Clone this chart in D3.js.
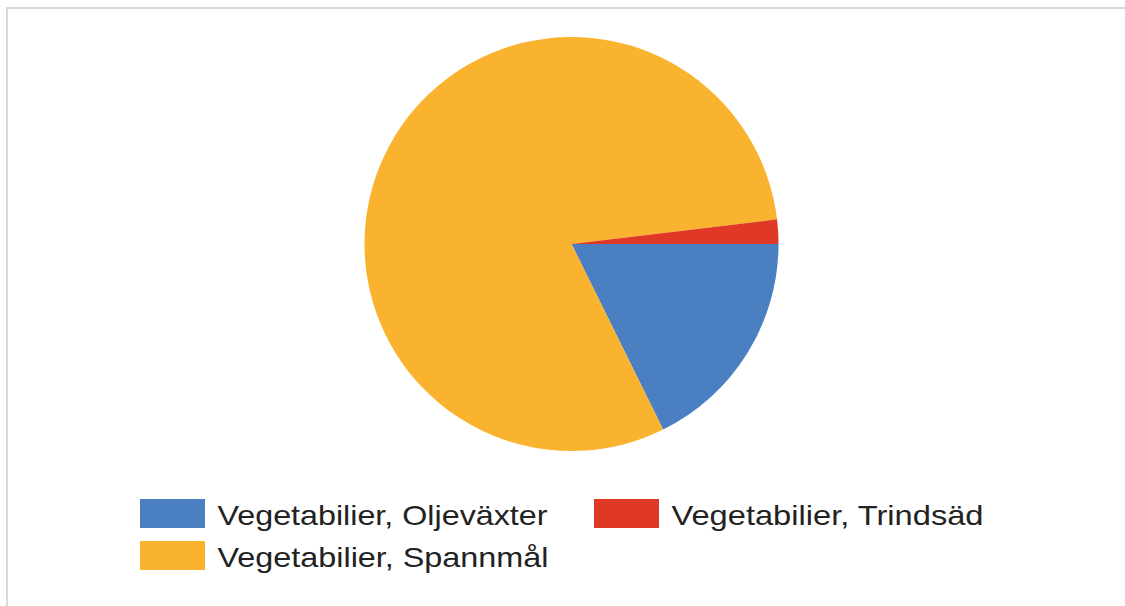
<!DOCTYPE html>
<html>
<head>
<meta charset="utf-8">
<style>
  body { margin: 0; background: #fff; }
  svg { display: block; }
</style>
</head>
<body>
<div id="container"></div>
<script src="https://cdn.jsdelivr.net/npm/d3@7"></script>
<script>

// slice data, in drawing order (clockwise from 3 o'clock)
const categories = ["Vegetabilier, Oljeväxter", "Vegetabilier, Spannmål", "Vegetabilier, Trindsäd"];
const values = [17.7, 80.4, 1.9];
const colors = ["#4a80c2", "#fab32f", "#e03826"];

// legend order as laid out in the picture (row by row)
const legendOrder = [0, 2, 1];

const width = 1125, height = 606;

const svg = d3.select("#container")
  .append("svg")
  .attr("width", width)
  .attr("height", height);

// chart frame
svg.append("rect")
  .attr("x", 7)
  .attr("y", 8)
  .attr("width", 1125)
  .attr("height", 640)
  .attr("fill", "none")
  .attr("stroke", "#d9d9d9")
  .attr("stroke-width", 2);

const cx = 571.5, cy = 244, r = 207;

const pie = d3.pie()
  .sort(null)
  .startAngle(Math.PI / 2)
  .endAngle(Math.PI / 2 + 2 * Math.PI)
  .value(d => d);

const arc = d3.arc().innerRadius(0).outerRadius(r);

const g = svg.append("g").attr("transform", `translate(${cx},${cy})`);

g.selectAll("path")
  .data(pie(values))
  .join("path")
  .attr("d", arc)
  .attr("fill", (d, i) => colors[i]);

// legend
const legendPos = [
  { x: 140, y: 499 },
  { x: 594, y: 499 },
  { x: 140, y: 541 }
];
const textWidths = [330, 312, 331];

const legend = svg.append("g");
legendOrder.forEach((idx, k) => {
  const p = legendPos[k];
  legend.append("rect")
    .attr("x", p.x)
    .attr("y", p.y)
    .attr("width", 65)
    .attr("height", 29)
    .attr("fill", colors[idx]);
  legend.append("text")
    .attr("x", p.x + 77.5)
    .attr("y", p.y + 26)
    .attr("font-family", "Liberation Sans, Arial, sans-serif")
    .attr("font-size", 28.5)
    .attr("fill", "#222")
    .attr("textLength", textWidths[k])
    .attr("lengthAdjust", "spacingAndGlyphs")
    .text(categories[idx]);
});

</script>
</body>
</html>
